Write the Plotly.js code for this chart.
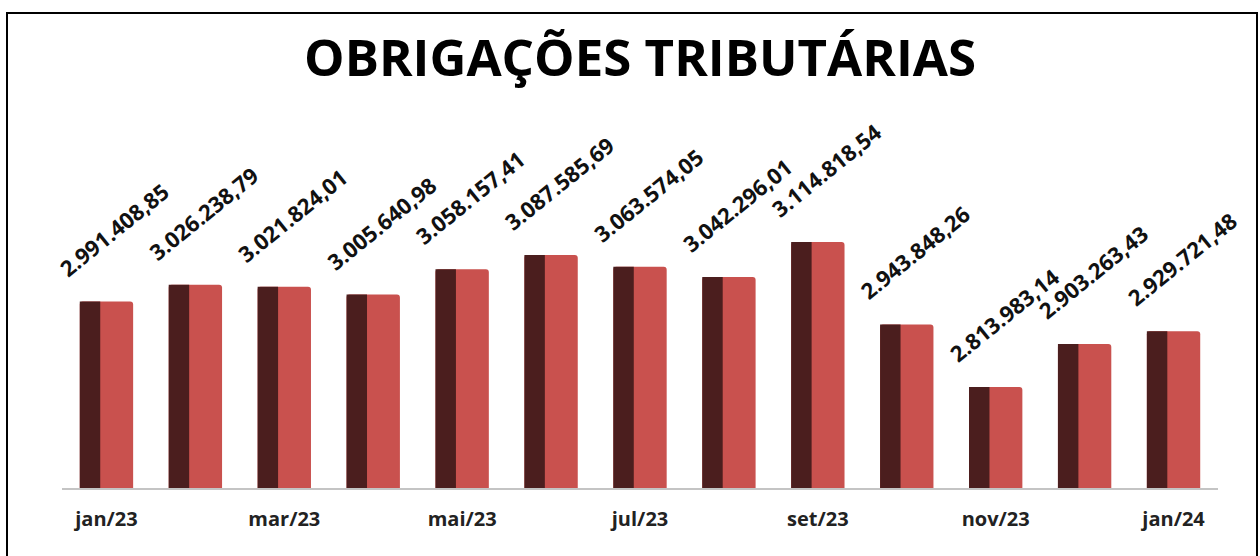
<!DOCTYPE html>
<html>
<head>
<meta charset="utf-8">
<script src="https://cdn.plot.ly/plotly-3.0.1.min.js"></script>
<style>
    html, body { margin: 0; padding: 0; background: #fff; }
    #chart { position: absolute; left: 0; top: 0; width: 1260px; height: 556px; }
    #frame {
        position: absolute; left: 6px; top: 12px; width: 1248px; height: 560px;
        border: 2px solid #000; pointer-events: none;
    }
</style>
</head>
<body>
<div id="chart"></div>
<div id="frame"></div>
<script>
// Monthly values (R$)
const months = ['jan/23', 'fev/23', 'mar/23', 'abr/23', 'mai/23', 'jun/23', 'jul/23',
                'ago/23', 'set/23', 'out/23', 'nov/23', 'dez/23', 'jan/24'];
const values = [2991408.85, 3026238.79, 3021824.01, 3005640.98, 3058157.41, 3087585.69,
                3063574.05, 3042296.01, 3114818.54, 2943848.26, 2813983.14, 2903263.43, 2929721.48];
const tickMonths = ['jan/23', 'mar/23', 'mai/23', 'jul/23', 'set/23', 'nov/23', 'jan/24'];

// pt-BR number format: 2.991.408,85
function fmt(v) {
    const parts = v.toFixed(2).split('.');
    const intPart = parts[0].replace(/\B(?=(\d{3})+(?!\d))/g, '.');
    return intPart + ',' + parts[1];
}

const lightFace = {
    x: months, y: values, type: 'bar',
    width: 0.6, offset: -0.3,
    marker: { color: '#c9514e', line: { width: 0 }, cornerradius: 3 },
    hoverinfo: 'skip'
};
const darkFace = {
    x: months, y: values, type: 'bar',
    width: 0.23, offset: -0.3,
    marker: { color: '#4b1e1e', line: { width: 0 } },
    hoverinfo: 'skip'
};

const labels = months.map((m, i) => ({
    x: m, y: values[i], text: fmt(values[i]),
    showarrow: false, textangle: -39,
    xanchor: 'center', yanchor: 'middle',
    xshift: 8, yshift: 72,
    font: { family: 'Open Sans, sans-serif', size: 22, color: '#111', weight: 'bold' }
}));

const layout = {
    width: 1260, height: 556,
    margin: { l: 62, r: 42, t: 100, b: 68 },
    paper_bgcolor: '#fff', plot_bgcolor: '#fff',
    showlegend: false,
    barmode: 'overlay',
    title: {
        text: '<b>OBRIGAÇÕES TRIBUTÁRIAS</b>',
        x: 0.508, xanchor: 'center', y: 0.895, yanchor: 'middle',
        font: { family: 'Open Sans, sans-serif', size: 51, color: '#000' }
    },
    xaxis: {
        type: 'category', range: [-0.5, 12.5],
        tickvals: tickMonths, ticktext: tickMonths.map(t => '<b>' + t + '</b>'),
        tickfont: { family: 'Open Sans, sans-serif', size: 20, color: '#222' },
        showline: true, linecolor: '#c4c4c4', linewidth: 2,
        showgrid: false, ticks: '', ticklabelstandoff: 12
    },
    yaxis: {
        visible: false, range: [2604400, 3409400], showgrid: false, zeroline: false
    },
    annotations: labels
};

Plotly.newPlot('chart', [lightFace, darkFace], layout, { staticPlot: true, displayModeBar: false });
</script>
</body>
</html>
